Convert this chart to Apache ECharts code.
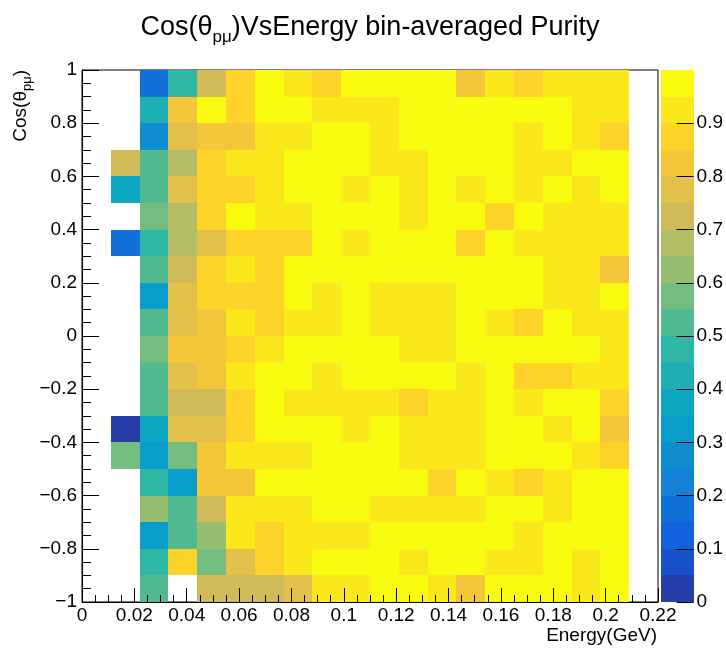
<!DOCTYPE html>
<html>
<head>
<meta charset="utf-8">
<script src="https://cdn.jsdelivr.net/npm/echarts@6/dist/echarts.min.js"></script>
<style>
  html, body { margin: 0; padding: 0; background: #fff; }
  #chart { width: 726px; height: 649px; }
</style>
</head>
<body>
<div id="chart"></div>
<script>
// Binning of the 2D histogram
const energyBinWidth = 0.011;      // GeV per column, 20 columns over 0–0.22
const cosBinWidth = 0.1;           // 20 rows over −1..1
const energyRange = [0, 0.22];
const cosRange = [-1, 1];
const energyTickStep = 0.02;
const cosTickStep = 0.2;
const purityRange = [0, 1];
const purityContours = 20;
const purityTickValues = [0, 0.1, 0.2, 0.3, 0.4, 0.5, 0.6, 0.7, 0.8, 0.9];

// Bin-averaged purity. Rows run from the cos bin 0.9..1.0 (first) down to −1.0..−0.9 (last);
// columns are the energy bins 0–0.011, 0.011–0.022, ... , 0.209–0.22 GeV. null = empty bin.
const purityRows = [
  [null, null, 0.17, 0.48, 0.72, 0.87, 0.97, 0.93, 0.86, 0.97, 0.98, 0.97, 0.96, 0.83, 0.93, 0.88, 0.92, 0.93, 0.92, null],
  [null, null, 0.43, 0.83, 0.97, 0.87, 0.98, 0.97, 0.93, 0.92, 0.93, 0.97, 0.98, 0.97, 0.96, 0.97, 0.97, 0.93, 0.92, null],
  [null, null, 0.27, 0.78, 0.82, 0.83, 0.93, 0.92, 0.97, 0.98, 0.93, 0.97, 0.97, 0.98, 0.96, 0.92, 0.97, 0.93, 0.88, null],
  [null, 0.73, 0.53, 0.68, 0.88, 0.93, 0.92, 0.97, 0.98, 0.97, 0.93, 0.92, 0.97, 0.96, 0.97, 0.93, 0.92, 0.97, 0.98, null],
  [null, 0.37, 0.52, 0.77, 0.88, 0.87, 0.93, 0.97, 0.97, 0.92, 0.98, 0.93, 0.97, 0.92, 0.97, 0.93, 0.96, 0.92, 0.97, null],
  [null, null, 0.58, 0.67, 0.87, 0.97, 0.93, 0.92, 0.97, 0.98, 0.97, 0.93, 0.97, 0.96, 0.87, 0.97, 0.93, 0.92, 0.93, null],
  [null, 0.18, 0.48, 0.68, 0.78, 0.88, 0.87, 0.87, 0.97, 0.93, 0.97, 0.98, 0.97, 0.88, 0.96, 0.93, 0.92, 0.93, 0.92, null],
  [null, null, 0.52, 0.72, 0.88, 0.93, 0.87, 0.97, 0.98, 0.97, 0.96, 0.97, 0.98, 0.97, 0.97, 0.96, 0.93, 0.92, 0.82, null],
  [null, null, 0.32, 0.78, 0.87, 0.88, 0.87, 0.97, 0.93, 0.97, 0.92, 0.93, 0.93, 0.97, 0.98, 0.97, 0.93, 0.92, 0.97, null],
  [null, null, 0.53, 0.77, 0.83, 0.93, 0.87, 0.92, 0.93, 0.97, 0.92, 0.93, 0.92, 0.97, 0.93, 0.88, 0.97, 0.93, 0.92, null],
  [null, null, 0.57, 0.83, 0.82, 0.88, 0.93, 0.97, 0.98, 0.97, 0.97, 0.93, 0.92, 0.97, 0.98, 0.97, 0.96, 0.97, 0.93, null],
  [null, null, 0.52, 0.78, 0.83, 0.92, 0.97, 0.98, 0.93, 0.97, 0.97, 0.96, 0.97, 0.93, 0.97, 0.87, 0.88, 0.93, 0.92, null],
  [null, null, 0.53, 0.73, 0.72, 0.87, 0.97, 0.93, 0.92, 0.93, 0.92, 0.88, 0.93, 0.92, 0.97, 0.93, 0.97, 0.98, 0.87, null],
  [null, 0.03, 0.38, 0.78, 0.77, 0.88, 0.97, 0.98, 0.97, 0.93, 0.97, 0.92, 0.93, 0.92, 0.97, 0.96, 0.93, 0.97, 0.83, null],
  [null, 0.58, 0.33, 0.57, 0.83, 0.93, 0.92, 0.93, 0.97, 0.98, 0.97, 0.93, 0.92, 0.93, 0.97, 0.97, 0.96, 0.92, 0.88, null],
  [null, null, 0.47, 0.32, 0.82, 0.83, 0.97, 0.97, 0.98, 0.97, 0.96, 0.97, 0.87, 0.97, 0.93, 0.88, 0.92, 0.97, 0.98, null],
  [null, null, 0.63, 0.52, 0.73, 0.93, 0.92, 0.93, 0.97, 0.98, 0.93, 0.92, 0.93, 0.92, 0.97, 0.97, 0.93, 0.96, 0.97, null],
  [null, null, 0.33, 0.53, 0.62, 0.92, 0.87, 0.93, 0.92, 0.93, 0.97, 0.98, 0.97, 0.96, 0.97, 0.93, 0.97, 0.98, 0.97, null],
  [null, null, 0.48, 0.88, 0.57, 0.78, 0.87, 0.93, 0.97, 0.98, 0.97, 0.92, 0.97, 0.96, 0.93, 0.92, 0.97, 0.93, 0.97, null],
  [null, null, 0.52, null, 0.73, 0.72, 0.73, 0.77, 0.93, 0.92, 0.97, 0.98, 0.93, 0.83, 0.97, 0.96, 0.97, 0.92, 0.97, null]
];

// "Bird" colour palette stops
const birdStops = [0.0, 0.125, 0.25, 0.375, 0.5, 0.625, 0.75, 0.875, 1.0];
const birdRed   = [0.2082, 0.0592, 0.0780, 0.0232, 0.1802, 0.5301, 0.8186, 0.9956, 0.9764];
const birdGreen = [0.1664, 0.3599, 0.5041, 0.6419, 0.7178, 0.7492, 0.7328, 0.7862, 0.9832];
const birdBlue  = [0.5293, 0.8684, 0.8385, 0.7914, 0.6425, 0.4662, 0.3499, 0.1968, 0.0539];

function birdColor(t) {
  t = Math.max(0, Math.min(1, t));
  let i = 0;
  while (i < birdStops.length - 2 && t > birdStops[i + 1]) i++;
  const f = (t - birdStops[i]) / (birdStops[i + 1] - birdStops[i]);
  const c = arr => Math.round(255 * (arr[i] + f * (arr[i + 1] - arr[i])));
  return 'rgb(' + c(birdRed) + ',' + c(birdGreen) + ',' + c(birdBlue) + ')';
}

// colour of contour level n (0..19), picked from a 255-entry gradient table
function contourColor(level) {
  const idx = Math.floor((level + 0.99) * 255 / purityContours);
  return birdColor(Math.min(idx, 254) / 254);
}

function purityLevel(v) {
  const scale = purityContours / (purityRange[1] - purityRange[0]);
  return Math.max(0, Math.min(purityContours - 1, Math.floor(0.01 + (v - purityRange[0]) * scale)));
}

// [energy low edge, cos low edge, purity] for every filled bin
const cells = [];
purityRows.forEach((row, r) => {
  const cosLow = cosRange[1] - (r + 1) * cosBinWidth;
  row.forEach((v, k) => {
    if (v !== null) cells.push([k * energyBinWidth, cosLow, v]);
  });
});

// colour bar bands
const contourStep = (purityRange[1] - purityRange[0]) / purityContours;
const bands = [];
for (let i = 0; i < purityContours; i++) bands.push([0, purityRange[0] + i * contourStep, i]);

const fmt = v => String(+(+v).toFixed(3)).replace('-', '\u2212');
const FONT = '"Liberation Sans", Arial, Helvetica, sans-serif';
const black = '#000';

const chart = echarts.init(document.getElementById('chart'), null, { renderer: 'canvas' });

chart.setOption({
  animation: false,
  backgroundColor: '#fff',
  textStyle: { fontFamily: FONT, color: black },
  grid: [
    { left: 82, top: 70, width: 576, height: 532, show: true, borderColor: black, borderWidth: 1, backgroundColor: 'transparent' },
    { left: 661, top: 70, width: 33, height: 532 }
  ],
  xAxis: [
    {
      gridIndex: 0, type: 'value', min: energyRange[0], max: energyRange[1], interval: energyTickStep, z: 5,
      axisLine: { show: true, onZero: false, lineStyle: { color: black, width: 1 } },
      axisTick: { show: true, inside: true, length: 14, lineStyle: { color: black } },
      minorTick: { show: true, splitNumber: 4, length: 7, lineStyle: { color: black } },
      splitLine: { show: false },
      axisLabel: { margin: 4, fontSize: 19, color: black, fontFamily: FONT, formatter: fmt }
    },
    { gridIndex: 1, type: 'value', min: 0, max: 1, show: false, axisLine: { onZero: false } }
  ],
  yAxis: [
    {
      gridIndex: 0, type: 'value', min: cosRange[0], max: cosRange[1], interval: cosTickStep, z: 5,
      axisLine: { show: true, onZero: false, lineStyle: { color: black, width: 1 } },
      axisTick: { show: true, inside: true, length: 17, lineStyle: { color: black } },
      minorTick: { show: true, splitNumber: 4, length: 9, lineStyle: { color: black } },
      splitLine: { show: false },
      axisLabel: { margin: 5, fontSize: 19, color: black, fontFamily: FONT, formatter: fmt }
    },
    {
      gridIndex: 1, type: 'value', min: purityRange[0], max: purityRange[1], position: 'right', z: 5,
      axisLine: { show: false, onZero: false },
      axisTick: { show: true, inside: true, length: 17, lineStyle: { color: black }, customValues: purityTickValues },
      splitLine: { show: false },
      axisLabel: { margin: 3, fontSize: 19, color: black, fontFamily: FONT, customValues: purityTickValues, formatter: fmt }
    }
  ],
  series: [
    {
      type: 'custom', xAxisIndex: 0, yAxisIndex: 0, silent: true,
      encode: { x: 0, y: 1 },
      data: cells,
      renderItem: (params, api) => {
        const x0 = api.value(0), y0 = api.value(1), v = api.value(2);
        const a = api.coord([x0, y0]);
        const b = api.coord([x0 + energyBinWidth, y0 + cosBinWidth]);
        const l = Math.round(a[0]), r = Math.round(b[0]);
        const t = Math.round(b[1]), btm = Math.round(a[1]);
        return { type: 'rect', shape: { x: l, y: t, width: r - l, height: btm - t }, style: { fill: contourColor(purityLevel(v)) } };
      }
    },
    {
      type: 'custom', xAxisIndex: 1, yAxisIndex: 1, silent: true,
      encode: { x: 0, y: 1 },
      data: bands,
      renderItem: (params, api) => {
        const lo = api.value(1), lvl = api.value(2);
        const a = api.coord([0, lo]);
        const b = api.coord([1, lo + contourStep]);
        const l = Math.round(a[0]), r = Math.round(b[0]);
        const t = Math.round(b[1]), btm = Math.round(a[1]);
        return { type: 'rect', shape: { x: l, y: t, width: r - l, height: btm - t }, style: { fill: contourColor(lvl) } };
      }
    }
  ],
  graphic: [
    {
      type: 'text', x: 370, y: 28, z: 10, silent: true,
      style: {
        text: 'Cos(\u03b8{sub|p\u03bc})VsEnergy bin-averaged Purity',
        font: '27px ' + FONT, fill: black, align: 'center', verticalAlign: 'middle', lineHeight: 36,
        rich: { sub: { fontSize: 17, fontFamily: FONT, fill: black, verticalAlign: 'bottom', lineHeight: 17 } }
      }
    },
    {
      type: 'text', x: 21, y: 70, rotation: Math.PI / 2, z: 10, silent: true,
      style: {
        text: 'Cos(\u03b8{sub|p\u03bc})',
        font: '19px ' + FONT, fill: black, align: 'right', verticalAlign: 'middle', lineHeight: 26,
        rich: { sub: { fontSize: 13, fontFamily: FONT, fill: black, verticalAlign: 'bottom', lineHeight: 13 } }
      }
    },
    {
      type: 'text', x: 657, y: 636, z: 10, silent: true,
      style: { text: 'Energy(GeV)', font: '19px ' + FONT, fill: black, align: 'right', verticalAlign: 'middle' }
    }
  ]
});
</script>
</body>
</html>
